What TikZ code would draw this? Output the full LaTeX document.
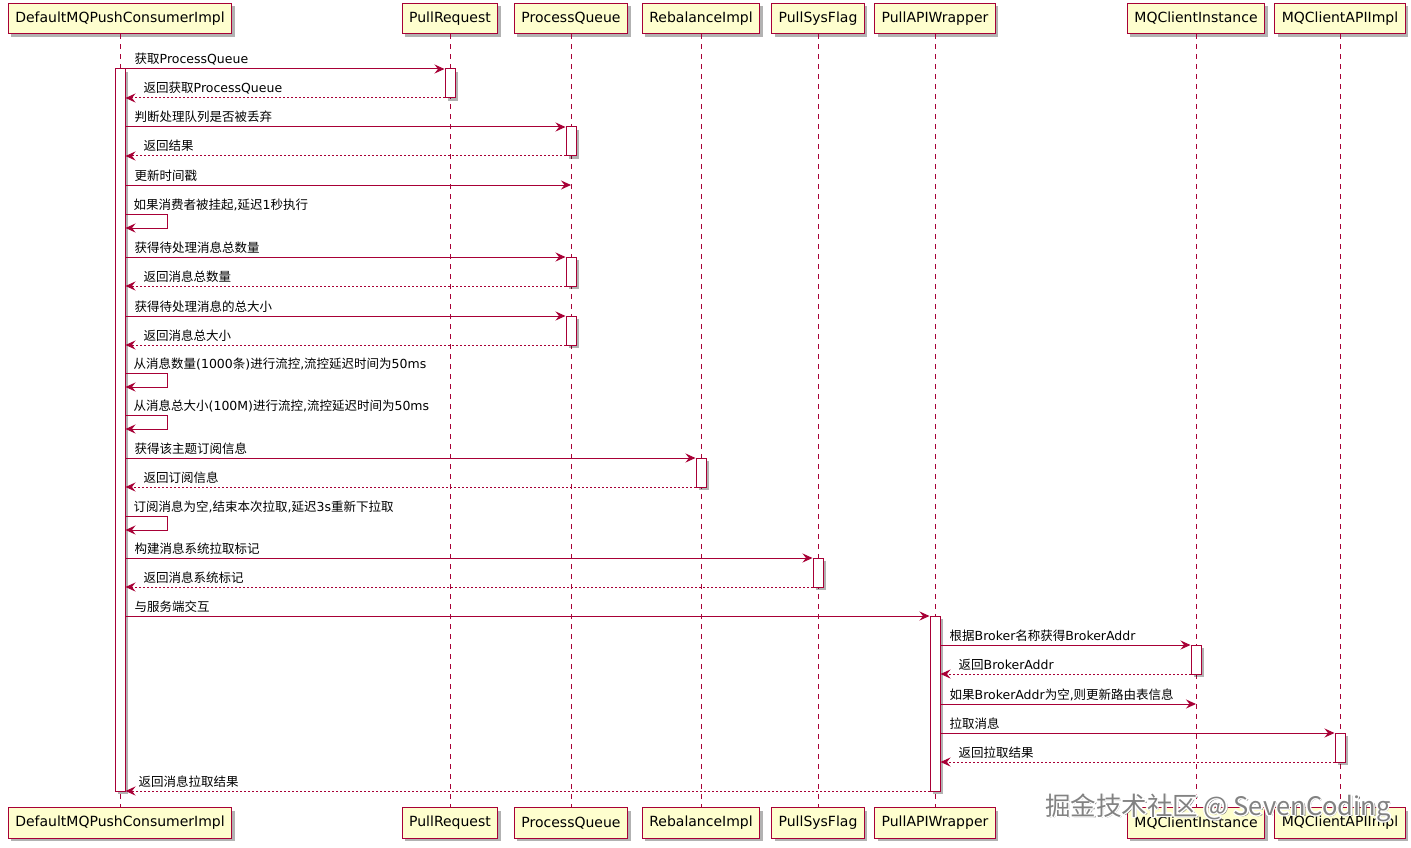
\documentclass[tikz,border=0pt]{standalone}
\usepackage{fontspec}
\setmainfont{DejaVu Sans}
\newfontfamily\latinfont{DejaVu Sans}
\newfontfamily\cjk{Noto Sans CJK SC}
\usetikzlibrary{arrows.meta,shadows}
\definecolor{pu}{HTML}{A80036}
\definecolor{pubg}{HTML}{FEFECE}
\definecolor{wmgray}{RGB}{130,130,130}
\XeTeXinterchartokenstate=1
\newXeTeXintercharclass\cjkcls
\count255="4E00
\loop\XeTeXcharclass\count255=\cjkcls \ifnum\count255<"9FFF \advance\count255 by 1 \repeat
\XeTeXinterchartoks 0 \cjkcls={\cjk}
\XeTeXinterchartoks 4095 \cjkcls={\cjk}
\XeTeXinterchartoks \cjkcls 0={\latinfont}
\XeTeXinterchartoks \cjkcls 4095={\latinfont}
\tikzset{
  part/.style={draw=pu, fill=pubg, line width=1pt, minimum height=30.5pt, inner xsep=7pt, inner ysep=0pt,
    font=\fontsize{14}{16}\selectfont, text=black,
    drop shadow={shadow xshift=3pt, shadow yshift=-3pt, opacity=0.3, fill=black}},
  life/.style={draw=pu, line width=0.9pt, dash pattern=on 5pt off 5pt},
  act/.style={draw=pu, fill=white, line width=1pt, minimum width=10pt, inner sep=0pt,
    drop shadow={shadow xshift=3pt, shadow yshift=-3pt, opacity=0.3, fill=black}},
  msg/.style={draw=pu, line width=1pt, -{Stealth[length=10pt,width=9pt,inset=3.5pt]}},
  ret/.style={msg, dash pattern=on 2pt off 2pt},
  lbl/.style={anchor=base west, inner sep=0pt, font=\fontsize{12.5}{14}\selectfont, text=black},
  wm/.style={anchor=base west, inner sep=0pt},
}
\newcommand\fwdmsg[4]{%
  \coordinate (yy) at (0,#3);
  \draw[msg] (#1 |- yy) -- (#2 |- yy);
  \node[lbl] at ([xshift=9pt,yshift=5pt]#1 |- yy) {#4};}
\newcommand\retmsg[4]{%
  \coordinate (yy) at (0,#3);
  \draw[ret] (#1 |- yy) -- (#2 |- yy);
  \node[lbl] at ([xshift=18pt,yshift=5pt]#2 |- yy) {#4};}
\newcommand\selfmsg[3]{%
  \coordinate (yy) at (0,#2);
  \draw[msg] (#1 |- yy) -- ++(42,0) -- ++(0,14) -- ++(-42,0);
  \node[lbl] at ([xshift=8pt,yshift=5pt]#1 |- yy) {#3};}
\newcommand\wmtext{\XeTeXinterchartokenstate=0 \cjk\fontsize{25.5}{30}\selectfont 掘金技术社区 @ SevenCoding}
\begin{document}
\begin{tikzpicture}[x=1pt,y=-1pt]
\useasboundingbox[fill=white] (0,0) rectangle (1411,848);
% participants top
\node[part] (p1) at (120,18.5) {DefaultMQPushConsumerImpl};
\node[part] (p2) at (450,18.5) {PullRequest};
\node[part] (p3) at (571,18.5) {ProcessQueue};
\node[part] (p4) at (701,18.5) {RebalanceImpl};
\node[part] (p5) at (818,18.5) {PullSysFlag};
\node[part] (p6) at (935,18.5) {PullAPIWrapper};
\node[part] (p7) at (1196,18.5) {MQClientInstance};
\node[part] (p8) at (1340,18.5) {MQClientAPIImpl};
% participants bottom
\node[part] (q1) at (120,823) {DefaultMQPushConsumerImpl};
\node[part] (q2) at (450,823) {PullRequest};
\node[part] (q3) at (571,823) {ProcessQueue};
\node[part] (q4) at (701,823) {RebalanceImpl};
\node[part] (q5) at (818,823) {PullSysFlag};
\node[part] (q6) at (935,823) {PullAPIWrapper};
\node[part] (q7) at (1196,823) {MQClientInstance};
\node[part] (q8) at (1340,823) {MQClientAPIImpl};
% lifelines
\foreach \i in {1,...,8} {\draw[life] (p\i.south) -- (q\i.north);}
% activations
\node[act, minimum height=722pt] (a0) at (120,430) {};
\node[act, minimum height=29pt] (a1) at (450,83.5) {};
\node[act, minimum height=29pt] (a2) at (571,141.5) {};
\node[act, minimum height=29pt] (a3) at (571,271.5) {};
\node[act, minimum height=29pt] (a4) at (571,330.5) {};
\node[act, minimum height=29pt] (a5) at (701,472.5) {};
\node[act, minimum height=29pt] (a6) at (818,572.5) {};
\node[act, minimum height=175pt] (a7) at (935,703.5) {};
\node[act, minimum height=29pt] (a8) at (1196,659.5) {};
\node[act, minimum height=29pt] (a9) at (1340,747.5) {};
% messages
\fwdmsg{a0.east}{a1.west}{69}{获取ProcessQueue}
\retmsg{a1.west}{a0.east}{98}{返回获取ProcessQueue}
\fwdmsg{a0.east}{a2.west}{127}{判断处理队列是否被丢弃}
\retmsg{a2.west}{a0.east}{156}{返回结果}
\fwdmsg{a0.east}{p3}{185}{更新时间戳}
\selfmsg{a0.east}{214}{如果消费者被挂起,延迟1秒执行}
\fwdmsg{a0.east}{a3.west}{257}{获得待处理消息总数量}
\retmsg{a3.west}{a0.east}{286}{返回消息总数量}
\fwdmsg{a0.east}{a4.west}{316}{获得待处理消息的总大小}
\retmsg{a4.west}{a0.east}{345}{返回消息总大小}
\selfmsg{a0.east}{373}{从消息数量(1000条)进行流控,流控延迟时间为50ms}
\selfmsg{a0.east}{415}{从消息总大小(100M)进行流控,流控延迟时间为50ms}
\fwdmsg{a0.east}{a5.west}{458}{获得该主题订阅信息}
\retmsg{a5.west}{a0.east}{487}{返回订阅信息}
\selfmsg{a0.east}{516}{订阅消息为空,结束本次拉取,延迟3s重新下拉取}
\fwdmsg{a0.east}{a6.west}{558}{构建消息系统拉取标记}
\retmsg{a6.west}{a0.east}{587}{返回消息系统标记}
\fwdmsg{a0.east}{a7.west}{616}{与服务端交互}
\fwdmsg{a7.east}{a8.west}{645}{根据Broker名称获得BrokerAddr}
\retmsg{a8.west}{a7.east}{674}{返回BrokerAddr}
\fwdmsg{a7.east}{p7}{704}{如果BrokerAddr为空,则更新路由表信息}
\fwdmsg{a7.east}{a9.west}{733}{拉取消息}
\retmsg{a9.west}{a7.east}{762}{返回拉取结果}
\coordinate (yy) at (0,791);
\draw[ret] (a7.west |- yy) -- (a0.east |- yy);
\node[lbl] (lastlbl) at ([xshift=13pt,yshift=5pt]a0.east |- yy) {返回消息拉取结果};
% watermark
\node[wm, text=black!55] (wms) at (1046.5,816.5) {\wmtext};
\foreach \dx/\dy [count=\k] in {1.3/0,-1.3/0,0/1.3,0/-1.3,1/1,-1/1,1/-1,-1/-1} {
  \node[wm, text=white] (wmh\k) at (1045+\dx,815+\dy) {\wmtext};}
\node[wm, text=wmgray] (wm) at (1045,815) {\wmtext};
\end{tikzpicture}
\end{document}
